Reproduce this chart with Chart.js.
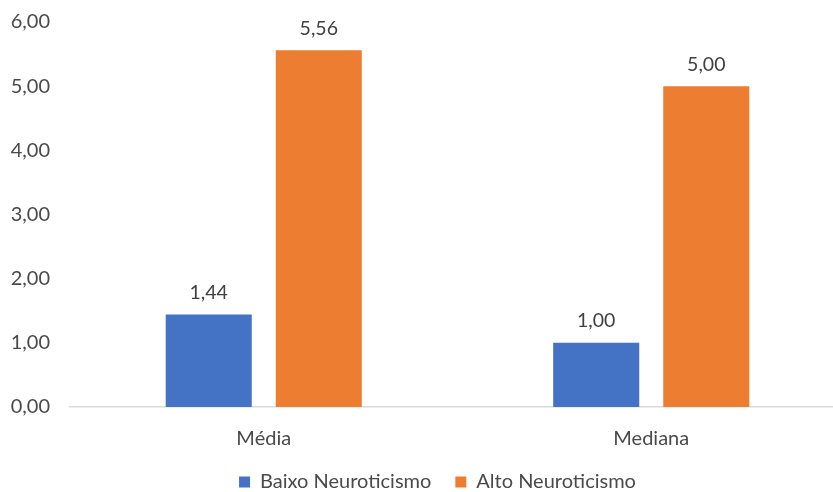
<!DOCTYPE html>
<html>
<head>
<meta charset="utf-8">
<script src="https://cdn.jsdelivr.net/npm/chart.js@4"></script>
<style>
html,body{margin:0;padding:0;background:#fff;overflow:hidden;}
#wrap{width:845px;height:492px;position:relative;}
</style>
</head>
<body>
<div id="wrap"><canvas id="c"></canvas></div>
<script>
const categories = ['Média', 'Mediana'];
const seriesNames = ['Baixo Neuroticismo', 'Alto Neuroticismo'];
const baixo = [1.44, 1.00];
const alto = [5.56, 5.00];
const yTicks = [0, 1, 2, 3, 4, 5, 6];

const FONT = 'Lato, "Open Sans", sans-serif';
const TXT = '#4a4a4a';
const fmt = v => v.toFixed(2).replace('.', ',');

const labelPlugin = {
  id: 'barLabels',
  afterLayout(chart) {
    // nudge the legend box so the legend is centred like the reference
    if (chart.legend) { chart.legend.left = 30; }
  },
  afterDatasetsDraw(chart) {
    const ctx = chart.ctx;
    ctx.save();
    ctx.font = '19.5px ' + FONT;
    ctx.fillStyle = '#404040';
    ctx.textAlign = 'center';
    ctx.textBaseline = 'bottom';
    chart.data.datasets.forEach((ds, i) => {
      chart.getDatasetMeta(i).data.forEach((bar, j) => {
        ctx.fillText(fmt(ds.data[j]), bar.x, bar.y - 12);
      });
    });
    ctx.restore();
  }
};

new Chart(document.getElementById('c'), {
  type: 'bar',
  data: {
    labels: categories,
    datasets: [
      { label: seriesNames[0], data: baixo, backgroundColor: '#4472C4', categoryPercentage: 0.568, barPercentage: 0.782 },
      { label: seriesNames[1], data: alto, backgroundColor: '#ED7D31', categoryPercentage: 0.568, barPercentage: 0.782 }
    ]
  },
  options: {
    responsive: true,
    maintainAspectRatio: false,
    animation: false,
    layout: { padding: { top: 0, right: 0, bottom: -10, left: 0 } },
    plugins: {
      legend: {
        position: 'bottom',
        labels: {
          boxWidth: 11, boxHeight: 11, padding: 24,
          color: TXT,
          font: { family: FONT, size: 20 }
        }
      },
      tooltip: { enabled: false }
    },
    scales: {
      x: {
        afterFit: s => { s.height = 41; },
        grid: { display: false, drawTicks: false },
        border: { display: true, color: '#d9d9d9', width: 1.5 },
        ticks: { color: TXT, padding: 20, font: { family: FONT, size: 20 } }
      },
      y: {
        min: 0, max: 6,
        afterBuildTicks: s => { s.ticks = yTicks.map(v => ({ value: v })); },
        afterFit: s => { s.width = 70; s.paddingTop = 22; s.paddingBottom = 12; },
        grid: { display: false, drawTicks: false },
        border: { display: false },
        ticks: { color: TXT, padding: 20, font: { family: FONT, size: 20 }, callback: v => fmt(v) }
      }
    }
  },
  plugins: [labelPlugin]
});
</script>
</body>
</html>
